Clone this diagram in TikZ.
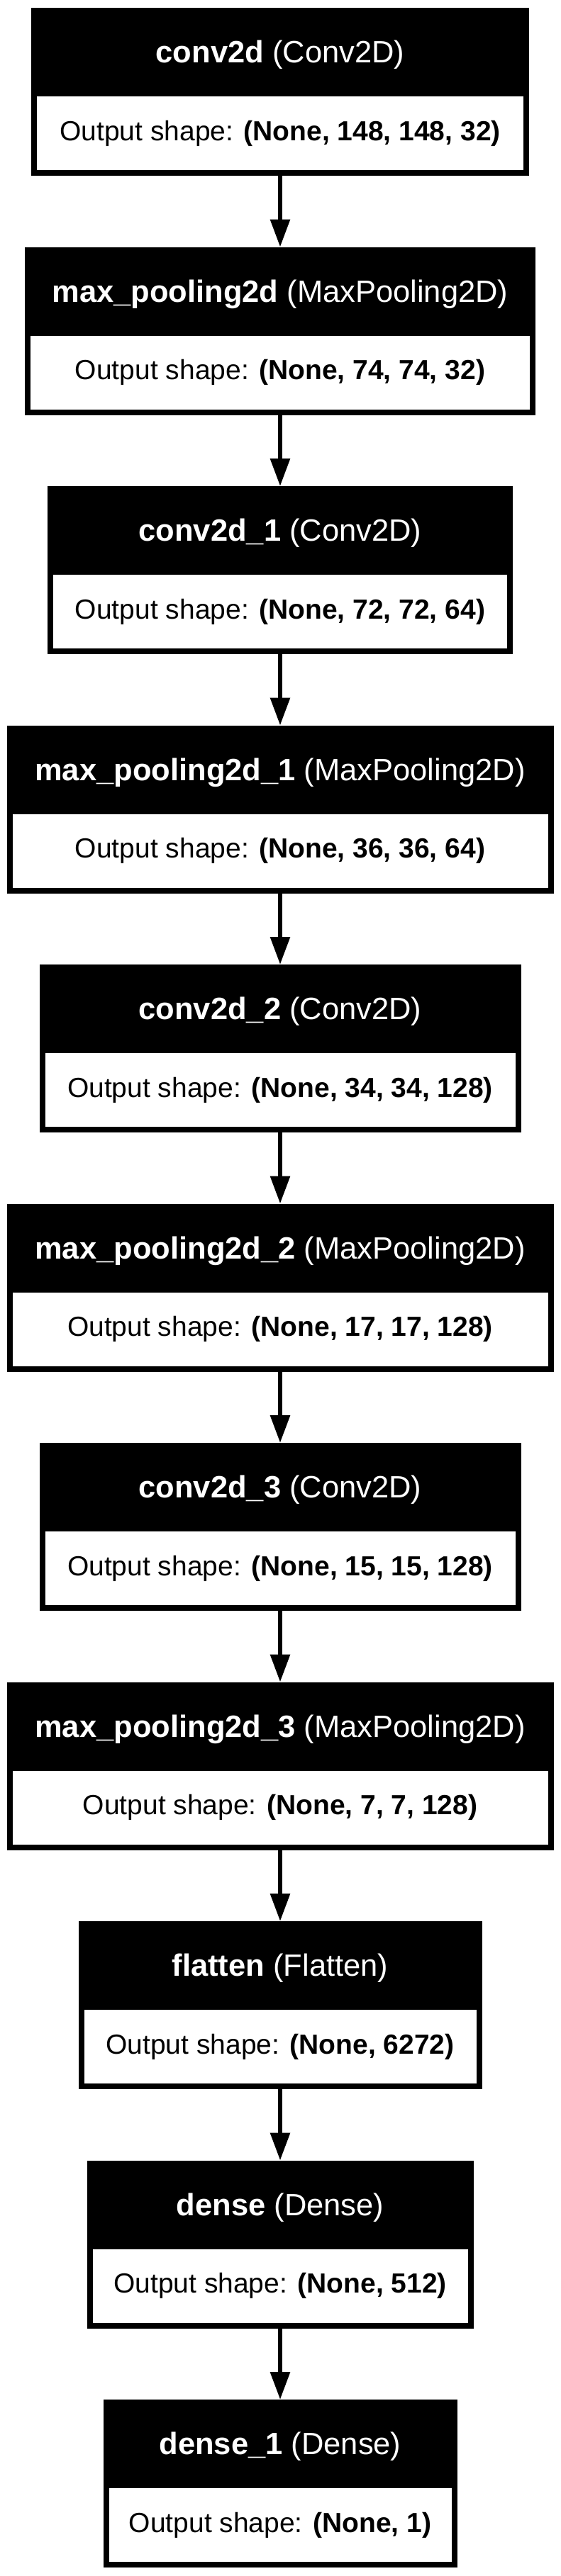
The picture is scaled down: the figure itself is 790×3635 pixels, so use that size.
\documentclass[tikz,border=0pt]{standalone}
\usepackage{fontspec}
\setmainfont{Liberation Sans}
\usetikzlibrary{arrows.meta}
\tikzset{
  layerbox/.style={draw=none, fill=black, rectangle, inner sep=0pt, outer sep=0pt, minimum height=237pt, anchor=north},
  outbox/.style={draw=none, fill=white, rectangle, inner sep=0pt, outer sep=0pt, minimum height=104pt, anchor=north},
  headtxt/.style={text=white, inner sep=0pt, anchor=base, font=\fontsize{43.5}{52}\selectfont},
  outtxt/.style={text=black, inner sep=0pt, anchor=base, font=\fontsize{39}{47}\selectfont},
  flow/.style={line width=6pt, -{Triangle[length=39pt,width=27pt]}, black}
}
\begin{document}
\begin{tikzpicture}[x=1pt,y=-1pt]
\fill[white] (0,0) rectangle (790,3635);
\useasboundingbox (0,0) rectangle (790,3635);
% layer: index, width, name, type, shape
\foreach \i/\w/\nm/\ty/\sh in {
 0/702/conv2d/Conv2D/{(None, 148, 148, 32)},
 1/720/max\_pooling2d/MaxPooling2D/{(None, 74, 74, 32)},
 2/656/conv2d\_1/Conv2D/{(None, 72, 72, 64)},
 3/771/max\_pooling2d\_1/MaxPooling2D/{(None, 36, 36, 64)},
 4/679/conv2d\_2/Conv2D/{(None, 34, 34, 128)},
 5/771/max\_pooling2d\_2/MaxPooling2D/{(None, 17, 17, 128)},
 6/679/conv2d\_3/Conv2D/{(None, 15, 15, 128)},
 7/771/max\_pooling2d\_3/MaxPooling2D/{(None, 7, 7, 128)},
 8/569/flatten/Flatten/{(None, 6272)},
 9/545/dense/Dense/{(None, 512)},
 10/499/dense\_1/Dense/{(None, 1)}}{
  \pgfmathsetmacro{\top}{11+337.5*\i}
  \node[layerbox, minimum width=\w pt] (L\i) at (395,\top) {};
  \node[outbox, minimum width=\w pt-16pt] (O\i) at (395,\top+125) {};
  \node[headtxt] (H\i) at (395,\top+77.5) {\textbf{\nm} (\ty)};
  \node[outtxt] (T\i) at (395,\top+187) {Output shape: \textbf{\sh}};
}
\foreach \a/\b in {0/1,1/2,2/3,3/4,4/5,5/6,6/7,7/8,8/9,9/10}{
  \draw[flow] (L\a.south) -- (L\b.north);
}
\end{tikzpicture}
\end{document}
